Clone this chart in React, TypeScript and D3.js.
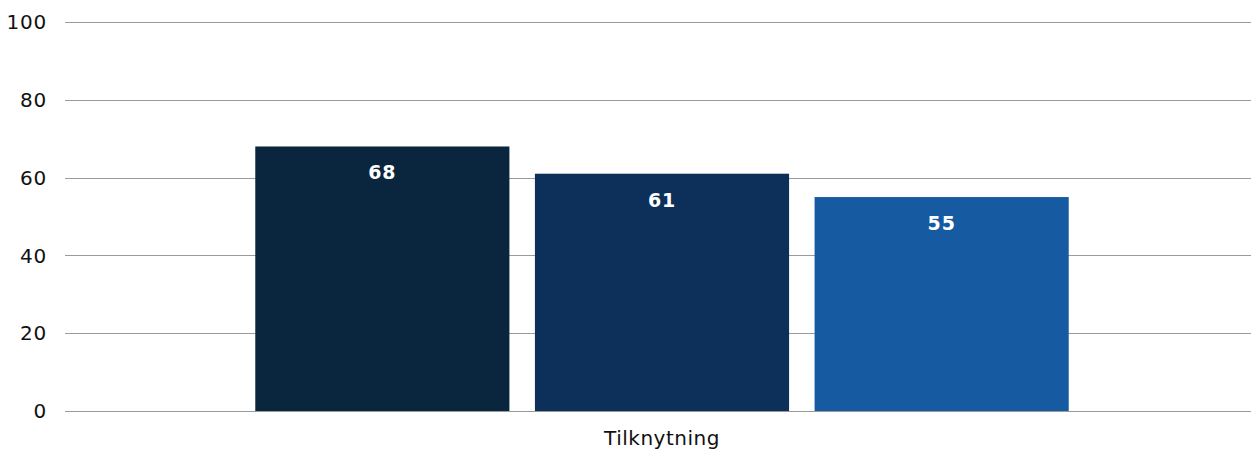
import React, { useEffect, useRef } from 'react';
import * as d3 from 'd3';

const categories = ['Tilknytning'];
const seriesNames = ['A', 'B', 'C'];
const seriesValues = [68, 61, 55];
const seriesColors = ['#0a263f', '#0c3059', '#165aa2'];
const yTicks = [0, 20, 40, 60, 80, 100];

export default function App() {
  const svgRef = useRef<SVGSVGElement>(null);

  useEffect(() => {
    if (!svgRef.current) return;
    const svg = d3.select(svgRef.current);
    svg.selectAll('*').remove();

    const width = 1251;
    const height = 450;
    const margin = { top: 22, right: 0, bottom: 39, left: 65 };
    const font = 'DejaVu Sans, Verdana, sans-serif';

    const y = d3.scaleLinear().domain([0, 100]).range([height - margin.bottom, margin.top]);

    const x0 = d3.scaleBand<string>()
      .domain(categories)
      .range([margin.left + 4, width - margin.right + 4])
      .paddingOuter(0.229)
      .paddingInner(0);

    const x1 = d3.scaleBand<string>()
      .domain(seriesNames)
      .range([0, x0.bandwidth()])
      .paddingInner(0.0912)
      .paddingOuter(0);

    // gridlines
    svg.append('g')
      .selectAll('line')
      .data(yTicks)
      .join('line')
      .attr('x1', margin.left)
      .attr('x2', width - margin.right)
      .attr('y1', d => Math.round(y(d)) + 0.5)
      .attr('y2', d => Math.round(y(d)) + 0.5)
      .attr('stroke', '#9a9a9a')
      .attr('stroke-width', 1);

    svg.append('g')
      .selectAll('text')
      .data(yTicks)
      .join('text')
      .attr('x', 47)
      .attr('y', d => y(d))
      .attr('dy', '0.36em')
      .attr('text-anchor', 'end')
      .attr('font-family', font)
      .attr('font-size', 20)
      .attr('letter-spacing', 0.8)
      .attr('fill', '#111')
      .text(d => d);

    categories.forEach(cat => {
      const g = svg.append('g').attr('transform', `translate(${x0(cat)},0)`);
      g.selectAll('rect')
        .data(seriesNames)
        .join('rect')
        .attr('x', d => x1(d)!)
        .attr('width', x1.bandwidth())
        .attr('y', (_, i) => y(seriesValues[i]))
        .attr('height', (_, i) => y(0) - y(seriesValues[i]))
        .attr('fill', (_, i) => seriesColors[i]);

      g.selectAll('text.val')
        .data(seriesNames)
        .join('text')
        .attr('class', 'val')
        .attr('x', d => x1(d)! + x1.bandwidth() / 2)
        .attr('y', (_, i) => y(seriesValues[i]) + 33)
        .attr('text-anchor', 'middle')
        .attr('font-family', font)
        .attr('font-size', 19)
        .attr('font-weight', 'bold')
        .attr('letter-spacing', 0.8)
        .attr('fill', '#fff')
        .text((_, i) => seriesValues[i]);

      svg.append('text')
        .attr('x', x0(cat)! + x0.bandwidth() / 2)
        .attr('y', height - margin.bottom + 34)
        .attr('text-anchor', 'middle')
        .attr('font-family', font)
        .attr('font-size', 20)
        .attr('letter-spacing', 0.5)
        .attr('fill', '#111')
        .text(cat);
    });
  }, []);

  return (
    <svg
      ref={svgRef}
      width={1251}
      height={450}
      style={{ position: 'absolute', left: 0, top: 0, display: 'block', background: '#fff' }}
    />
  );
}
